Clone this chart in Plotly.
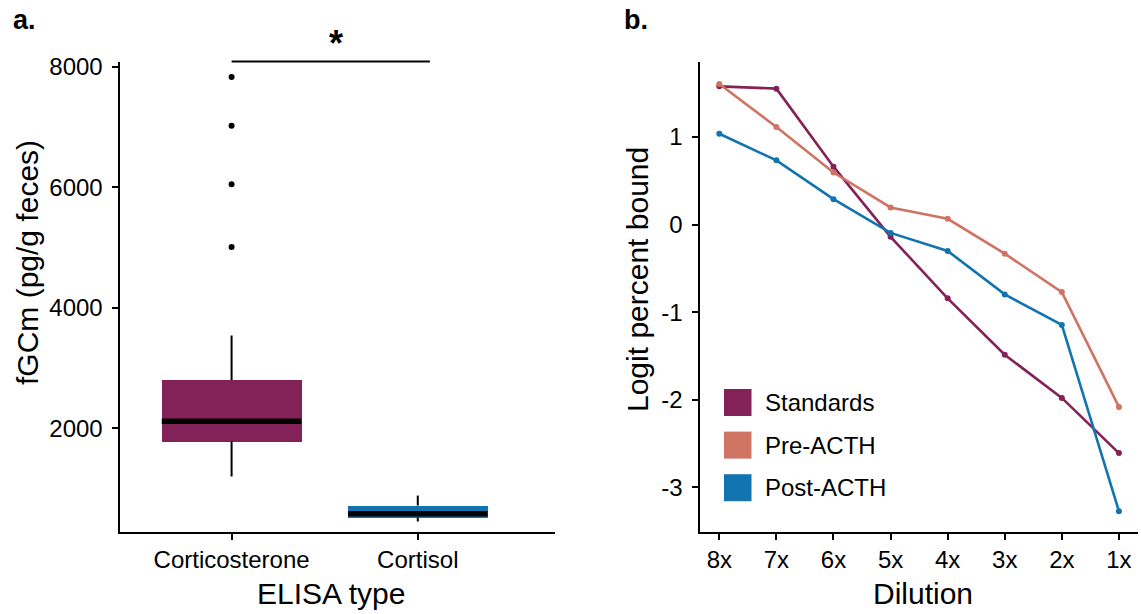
import plotly.graph_objects as go

W, H = 1141, 614

# ---------------- Panel a data ----------------
elisa_types = ["Corticosterone", "Cortisol"]
box_colors = ["#832258", "#1174B0"]
q1 = [1777, 516]
median = [2115, 577]
q3 = [2800, 715]
lower_whisker = [1196, 450]
upper_whisker = [3540, 881]
outliers_corticosterone = [7830, 7020, 6050, 5010]
y_ticks_a = [2000, 4000, 6000, 8000]

# ---------------- Panel b data ----------------
dilutions = ["8x", "7x", "6x", "5x", "4x", "3x", "2x", "1x"]
standards = [1.579, 1.553, 0.662, -0.139, -0.841, -1.485, -1.978, -2.608]
pre_acth = [1.606, 1.114, 0.595, 0.197, 0.067, -0.331, -0.770, -2.081]
post_acth = [1.038, 0.734, 0.291, -0.094, -0.300, -0.796, -1.145, -3.271]
series_names = ["Standards", "Pre-ACTH", "Post-ACTH"]
series_colors = ["#832258", "#CF7462", "#1174B0"]
y_ticks_b = [-3, -2, -1, 0, 1]

FONT = "Liberation Sans, Arial, sans-serif"

def px_x(p):
    return p / W

def px_y(p):
    return 1 - p / H

fig = go.Figure()

pos = [1, 2]
box_w = 0.75

# boxes as bars from q1 to q3
fig.add_trace(go.Bar(
    x=pos, y=[b - a for a, b in zip(q1, q3)], base=q1, width=box_w,
    marker=dict(color=box_colors, line=dict(width=0)),
    xaxis="x", yaxis="y", showlegend=False, hoverinfo="skip"))

# whiskers
wx, wy = [], []
for p, lw, a, b, uw in zip(pos, lower_whisker, q1, q3, upper_whisker):
    wx += [p, p, None, p, p, None]
    wy += [lw, a, None, b, uw, None]
fig.add_trace(go.Scatter(x=wx, y=wy, mode="lines", line=dict(color="black", width=2),
                         xaxis="x", yaxis="y", showlegend=False, hoverinfo="skip"))

# medians
mx, my = [], []
for p, m in zip(pos, median):
    mx += [p - box_w / 2, p + box_w / 2, None]
    my += [m, m, None]
fig.add_trace(go.Scatter(x=mx, y=my, mode="lines", line=dict(color="black", width=5.5),
                         xaxis="x", yaxis="y", showlegend=False, hoverinfo="skip"))

# outliers
fig.add_trace(go.Scatter(x=[pos[0]] * len(outliers_corticosterone), y=outliers_corticosterone,
                         mode="markers", marker=dict(color="black", size=6),
                         xaxis="x", yaxis="y", showlegend=False, hoverinfo="skip"))

# ---------------- Panel b ----------------
xb = list(range(1, len(dilutions) + 1))
for name, vals, col in zip(series_names, [standards, pre_acth, post_acth], series_colors):
    fig.add_trace(go.Scatter(x=xb, y=vals, mode="lines+markers", name=name,
                             line=dict(color=col, width=2.6),
                             marker=dict(color=col, size=6),
                             xaxis="x2", yaxis="y2", showlegend=False))

axis_common = dict(showline=True, linecolor="black", linewidth=2, ticks="outside",
                   ticklen=6, tickwidth=2, tickcolor="black", showgrid=False, zeroline=False,
                   automargin=False,
                   tickfont=dict(family=FONT, size=24, color="black"))

Y_TOP, Y_BOT = 62, 531.5
fig.update_layout(
    width=W, height=H, margin=dict(l=0, r=0, t=0, b=0, pad=0, autoexpand=False),
    plot_bgcolor="white", paper_bgcolor="white",
    font=dict(family=FONT, color="black"),
    bargap=0,
    xaxis=dict(domain=[px_x(119.5), px_x(555)], range=[0.398, 2.737],
               tickvals=pos, ticktext=elisa_types, anchor="y", ticklabelstandoff=0, **axis_common),
    yaxis=dict(domain=[px_y(Y_BOT), px_y(Y_TOP)], range=[284, 8080],
               tickvals=y_ticks_a, ticktext=[str(v) for v in y_ticks_a], anchor="x",
               ticklabelstandoff=4, **axis_common),
    xaxis2=dict(domain=[px_x(699.5), px_x(1138)], range=[0.653, 8.334],
                tickvals=xb, ticktext=dilutions, anchor="y2", ticklabelstandoff=0, **axis_common),
    yaxis2=dict(domain=[px_y(Y_BOT), px_y(Y_TOP)], range=[-3.503, 1.857],
                tickvals=y_ticks_b, ticktext=[str(v) for v in y_ticks_b], anchor="x2",
                ticklabelstandoff=4, **axis_common),
)

# significance bar between the two ELISA types (drawn on the top edge of panel a)
shapes = [dict(type="line", xref="x", yref="paper", x0=pos[0], x1=pos[1] + 0.065,
               y0=px_y(61.5), y1=px_y(61.5), line=dict(color="black", width=2))]

ann = []
def text(x, y, s, size, bold=False, angle=0, xanchor="center", yanchor="middle"):
    ann.append(dict(x=px_x(x), y=px_y(y), xref="paper", yref="paper", text=f"<b>{s}</b>" if bold else s,
                    showarrow=False, textangle=angle, xanchor=xanchor, yanchor=yanchor,
                    font=dict(family=FONT, size=size, color="black")))

text(11, 20, "a.", 27, bold=True, xanchor="left")
text(622, 20, "b.", 27, bold=True, xanchor="left")
text(336, 43, "*", 36, bold=True)
text(331, 593, "ELISA type", 30)
text(27, 263, "fGCm (pg/g feces)", 30, angle=-90)
text(923, 593, "Dilution", 30)
text(637, 280, "Logit percent bound", 30, angle=-90)

# manual legend (filled squares)
leg_top = 389
for i, (name, col) in enumerate(zip(series_names, series_colors)):
    y0 = leg_top + i * 42.6
    shapes.append(dict(type="rect", xref="paper", yref="paper",
                       x0=px_x(724), x1=px_x(751.5), y0=px_y(y0), y1=px_y(y0 + 27),
                       fillcolor=col, line=dict(width=0)))
    text(763, y0 + 13.5, name, 24, xanchor="left")

fig.update_layout(annotations=ann, shapes=shapes)
fig.write_html("out.html")
